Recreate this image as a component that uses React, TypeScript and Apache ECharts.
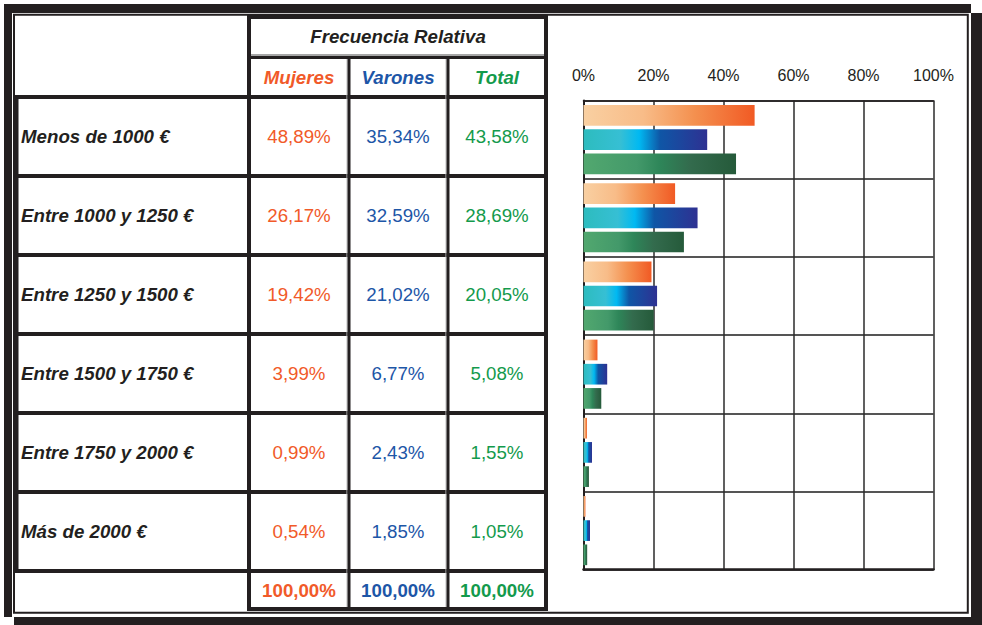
import React, { useEffect, useRef } from "react";
import * as echarts from "echarts";

const categories = [
  "Menos de 1000 €",
  "Entre 1000 y 1250 €",
  "Entre 1250 y 1500 €",
  "Entre 1500 y 1750 €",
  "Entre 1750 y 2000 €",
  "Más de 2000 €",
];
const mujeres = [48.89, 26.17, 19.42, 3.99, 0.99, 0.54];
const varones = [35.34, 32.59, 21.02, 6.77, 2.43, 1.85];
const total = [43.58, 28.69, 20.05, 5.08, 1.55, 1.05];
const totals = [100, 100, 100];
const seriesNames = ["Mujeres", "Varones", "Total"];
const headerTitle = "Frecuencia Relativa";
const xTicks = [0, 20, 40, 60, 80, 100];

const FONT = "'Liberation Sans', Arial, Helvetica, sans-serif";
const INK = "#231F20";
const textColors = ["#F15A29", "#1D56A7", "#139A4C"];

const fmt = (v: number) => v.toFixed(2).replace(".", ",") + "%";

export default function App() {
  const ref = useRef<HTMLDivElement>(null);
  useEffect(() => {
    if (!ref.current) return;
    const chart = echarts.init(ref.current, undefined, { renderer: "svg" });

    const g: any[] = [];
    const box = (x: number, y: number, w: number, h: number, fill = INK) =>
      g.push({ type: "rect", shape: { x, y, width: w, height: h }, style: { fill }, silent: true, z: 10 });

    // Outer frame
    box(4, 4, 967, 9);
    box(4, 4, 8, 613);
    box(971, 13, 11, 612);
    box(14, 617, 968, 8);
    g.push({
      type: "rect",
      shape: { x: 14, y: 14.7, width: 953.8, height: 598 },
      style: { fill: "none", stroke: INK, lineWidth: 2 },
      silent: true,
      z: 10,
    });

    // Table grid
    const rowY = [95, 174, 253, 332, 411, 490, 569];
    box(247, 15, 301, 4);
    box(251, 54, 293, 2, "#A6A6A6");
    box(251, 56, 293, 3);
    rowY.forEach((y) => box(14, y, 534, 4));
    box(247, 607, 301, 4);
    box(14, 95, 4.5, 478);
    box(247, 15, 4, 596);
    box(346.5, 59, 1, 548, "#BDBDBD");
    box(347.5, 59, 3, 548);
    box(445.5, 59, 1, 548, "#BDBDBD");
    box(446.5, 59, 3, 548);
    box(544, 15, 4, 596);

    const txt = (text: string, x: number, y: number, color: string, opts: any = {}) =>
      g.push({
        type: "text",
        x,
        y,
        silent: true,
        z: 11,
        style: {
          text,
          fill: color,
          font: `${opts.style || "normal"} ${opts.weight || "normal"} ${opts.size || 18.7}px ${FONT}`,
          align: opts.align || "center",
          verticalAlign: "middle",
        },
      });

    txt(headerTitle, 398, 36, INK, { style: "italic", weight: "bold" });
    const colCenters = [299, 398, 497];
    seriesNames.forEach((n, i) => txt(n, colCenters[i], 77, textColors[i], { style: "italic", weight: "bold" }));
    const dataCols = [mujeres, varones, total];
    categories.forEach((c, r) => {
      const cy = (rowY[r] + 4 + rowY[r + 1]) / 2;
      txt(c, 21, cy, INK, { style: "italic", weight: "bold", align: "left" });
      dataCols.forEach((arr, i) => txt(fmt(arr[r]), colCenters[i], cy, textColors[i]));
    });
    totals.forEach((v, i) => txt(fmt(v), colCenters[i], 590, textColors[i], { weight: "bold" }));

    const grad = (stops: [number, string][]) =>
      new echarts.graphic.LinearGradient(0, 0, 1, 0, stops.map(([offset, color]) => ({ offset, color })));

    const gradients = [
      grad([
        [0, "#F9D0A2"],
        [0.35, "#F8BC88"],
        [0.65, "#F4904F"],
        [1, "#F15A24"],
      ]),
      grad([
        [0, "#2DBCBE"],
        [0.3, "#36BFD4"],
        [0.45, "#00B9F2"],
        [0.62, "#0F56A6"],
        [1, "#2E3192"],
      ]),
      grad([
        [0, "#52A86F"],
        [0.35, "#43996A"],
        [0.5, "#2E8659"],
        [0.7, "#336B4D"],
        [1, "#255A3A"],
      ]),
    ];

    chart.setOption({
      animation: false,
      graphic: g,
      grid: { left: 583.5, top: 100.5, width: 350, height: 469.2, containLabel: false },
      xAxis: [
        {
          type: "value",
          position: "top",
          min: 0,
          max: 100,
          interval: 20,
          axisLine: { show: true, lineStyle: { color: INK, width: 1.5 } },
          axisTick: { show: false },
          axisLabel: {
            formatter: (v: number) => (xTicks.includes(v) ? `${v}%` : ""),
            color: INK,
            fontSize: 16,
            fontFamily: FONT,
            margin: 17,
          },
          splitLine: { show: true, lineStyle: { color: "#2B2B2B", width: 1.5 } },
        },
        {
          type: "value",
          position: "bottom",
          min: 0,
          max: 100,
          interval: 20,
          axisLine: { show: true, lineStyle: { color: INK, width: 2.5 } },
          axisTick: { show: false },
          axisLabel: { show: false },
          splitLine: { show: false },
        },
      ],
      yAxis: {
        type: "category",
        inverse: true,
        data: categories,
        axisLabel: { show: false },
        axisTick: { show: false },
        axisLine: { show: true, lineStyle: { color: INK, width: 2 } },
        splitLine: { show: true, interval: 0, lineStyle: { color: "#555555", width: 2 } },
      },
      series: [mujeres, varones, total].map((d, i) => ({
        type: "bar",
        name: seriesNames[i],
        data: d,
        xAxisIndex: 0,
        barWidth: 20.7,
        barGap: "17%",
        itemStyle: { color: gradients[i] },
      })),
    });
    return () => chart.dispose();
  }, []);
  return (
    <div
      ref={ref}
      style={{ position: "absolute", left: 0, top: 0, width: 982, height: 625, background: "#fff" }}
    />
  );
}
